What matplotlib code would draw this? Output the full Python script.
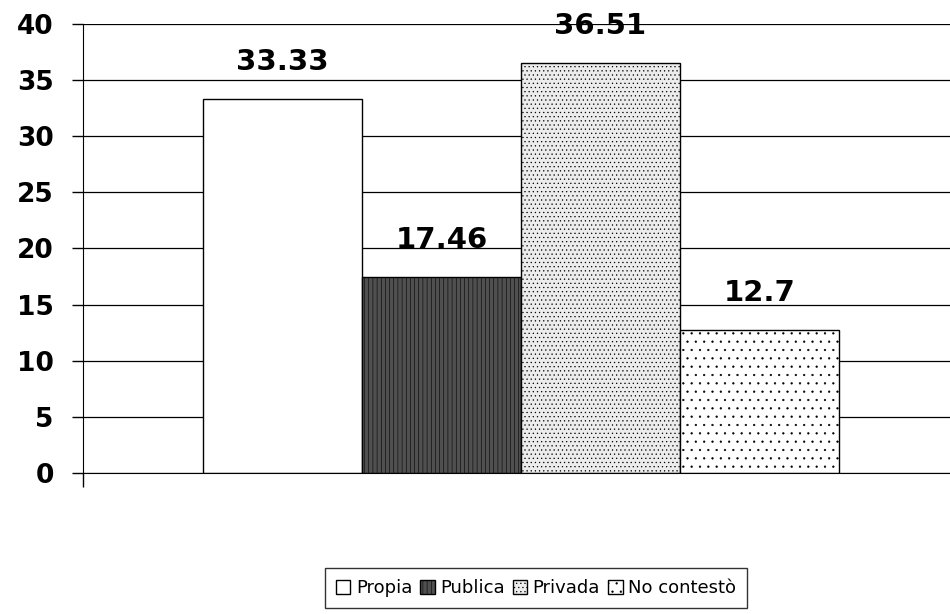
import matplotlib.pyplot as plt
from matplotlib.patches import Patch

# Data
categories = ['Propia', 'Publica', 'Privada', 'No contestò']
values = [33.33, 17.46, 36.51, 12.7]
labels = ['33.33', '17.46', '36.51', '12.7']
yticks = [0, 5, 10, 15, 20, 25, 30, 35, 40]

faces = ['white', '#505050', '#ececec', 'white']
hatches = [None, '||||', '....', '..']
hatch_cols = ['black', 'black', '#777777', '#999999']

plt.rcParams['hatch.linewidth'] = 0.4

fig = plt.figure(figsize=(9.5, 6.14), dpi=100)
ax = fig.add_axes([83 / 950, 1 - 473 / 614, 1 - 83 / 950, (473 - 24) / 614])


def style_patch(p, h, hc):
    if h:
        p.set_hatch(h)
        if hasattr(p, 'set_hatchcolor'):
            p.set_hatchcolor(hc)


positions = list(range(len(values)))
bars = ax.bar(positions, values, width=1.0, color=faces, edgecolor='black',
              linewidth=1.0, zorder=2)
for b, h, hc in zip(bars, hatches, hatch_cols):
    style_patch(b, h, hc)

for p, v, t in zip(positions, values, labels):
    ax.annotate(t, (p, v), xytext=(0, 21), textcoords='offset points',
                ha='center', va='baseline', fontsize=21, fontweight='bold',
                family='DejaVu Sans', zorder=3)

ax.set_ylim(0, 40)
ax.set_xlim(-1.255, -1.255 + 867 / 159)
ax.set_yticks(yticks)
ax.set_yticklabels([str(t) for t in yticks], fontsize=19, fontweight='bold',
                   family='DejaVu Sans')
ax.set_xticks([-1.255])
ax.set_xticklabels([''])
ax.tick_params(axis='y', length=8, width=1, pad=13)
ax.tick_params(axis='x', length=10, width=1)
ax.grid(axis='y', color='black', linewidth=0.9, zorder=1)
for s in ['top', 'right']:
    ax.spines[s].set_visible(False)

handles = []
for f, h, hc, c in zip(faces, hatches, hatch_cols, categories):
    hp = Patch(facecolor=f, edgecolor='black', label=c)
    style_patch(hp, h, hc)
    handles.append(hp)
fig.legend(handles=handles, loc='center', bbox_to_anchor=(536 / 950, 1 - 588 / 614),
           ncol=4, frameon=True, fancybox=False, edgecolor='black',
           handlelength=0.8, handleheight=0.8, handletextpad=0.3,
           columnspacing=0.45, borderpad=0.6,
           prop={'family': 'DejaVu Sans', 'size': 13})

fig.savefig('out.png', dpi=100)
